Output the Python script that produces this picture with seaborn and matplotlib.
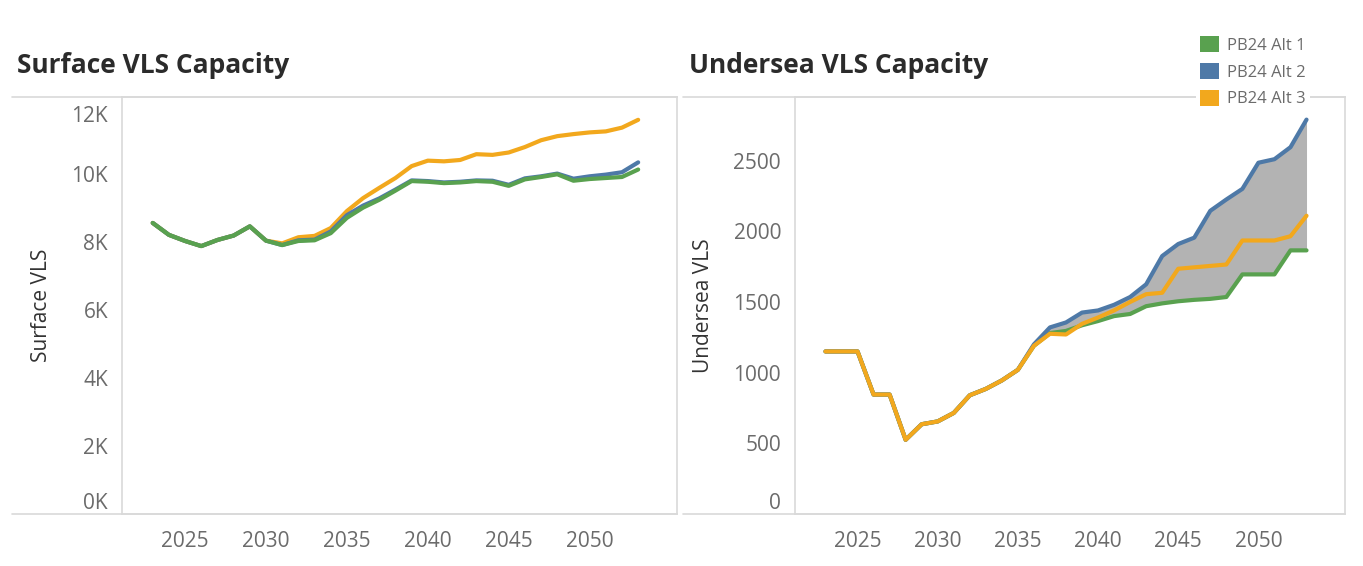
import numpy as np
import pandas as pd
import matplotlib
matplotlib.use("Agg")
import matplotlib.pyplot as plt
from matplotlib.lines import Line2D
from matplotlib.patches import Patch
import seaborn as sns

years = list(range(2023, 2054))
series_names = ["PB24 Alt 1", "PB24 Alt 2", "PB24 Alt 3"]
colors = {"PB24 Alt 1": "#59A14F", "PB24 Alt 2": "#4E79A7", "PB24 Alt 3": "#F2A81D"}

surface_alt1 = [8550, 8200, 8020, 7870, 8050, 8180, 8450, 8030, 7900, 8020, 8040,
                8250, 8700, 9000, 9230, 9500, 9780, 9760, 9720, 9740, 9780, 9760,
                9640, 9830, 9900, 9980, 9790, 9840, 9870, 9900, 10120]
surface_alt2 = [8550, 8200, 8020, 7870, 8050, 8180, 8450, 8030, 7900, 8040, 8060,
                8300, 8780, 9060, 9270, 9530, 9800, 9780, 9740, 9760, 9800, 9790,
                9670, 9860, 9920, 10000, 9850, 9920, 9970, 10040, 10330]
surface_alt3 = [8550, 8200, 8020, 7870, 8050, 8180, 8450, 8030, 7950, 8130, 8170,
                8400, 8900, 9280, 9580, 9870, 10220, 10380, 10360, 10400, 10570, 10550,
                10620, 10780, 10980, 11100, 11160, 11210, 11240, 11350, 11580]

undersea_alt1 = [1150, 1150, 1150, 845, 845, 525, 635, 655, 715, 840, 885, 945, 1020,
                 1190, 1280, 1295, 1335, 1365, 1400, 1415, 1470, 1490, 1505, 1515,
                 1522, 1535, 1695, 1695, 1695, 1865, 1865]
undersea_alt2 = [1150, 1150, 1150, 845, 845, 525, 635, 655, 715, 840, 885, 945, 1020,
                 1200, 1320, 1355, 1425, 1440, 1480, 1535, 1625, 1825, 1910, 1955,
                 2145, 2225, 2300, 2485, 2510, 2595, 2790]
undersea_alt3 = [1150, 1150, 1150, 845, 845, 525, 635, 655, 715, 840, 885, 945, 1020,
                 1190, 1275, 1270, 1345, 1390, 1440, 1500, 1555, 1565, 1735, 1745,
                 1755, 1765, 1935, 1935, 1935, 1965, 2110]

surface_ticks = [0, 2000, 4000, 6000, 8000, 10000, 12000]
surface_labels = ["0K", "2K", "4K", "6K", "8K", "10K", "12K"]
undersea_ticks = [0, 500, 1000, 1500, 2000, 2500]
year_ticks = [2025, 2030, 2035, 2040, 2045, 2050]


def to_long(cols):
    df = pd.DataFrame({"Year": years})
    for name, vals in zip(series_names, cols):
        df[name] = vals
    return df.melt(id_vars="Year", var_name="Series", value_name="VLS")


surface_df = to_long([surface_alt1, surface_alt2, surface_alt3])
undersea_df = to_long([undersea_alt1, undersea_alt2, undersea_alt3])

sns.set_theme(style="white")
plt.rcParams["font.family"] = ["Open Sans", "DejaVu Sans"]

W, H = 1363, 566
fig = plt.figure(figsize=(W / 100, H / 100), dpi=100)


def frac(x0, y0, x1, y1):
    return [x0 / W, 1 - y1 / H, (x1 - x0) / W, (y1 - y0) / H]


ax1 = fig.add_axes(frac(122, 97, 677, 514))
ax2 = fig.add_axes(frac(795, 97, 1345, 514))

grey_txt = "#6b6b6b"
line_col = "#d9d9d9"

# left: orange under blue under green
for name in ["PB24 Alt 3", "PB24 Alt 2", "PB24 Alt 1"]:
    sns.lineplot(data=surface_df[surface_df.Series == name], x="Year", y="VLS",
                 color=colors[name], lw=3, ax=ax1, legend=False)

# right: band first, then lines with orange on top
ax2.fill_between(years, undersea_alt1, undersea_alt2, color="#b3b3b3", lw=0)
for name in ["PB24 Alt 1", "PB24 Alt 2", "PB24 Alt 3"]:
    sns.lineplot(data=undersea_df[undersea_df.Series == name], x="Year", y="VLS",
                 color=colors[name], lw=3, ax=ax2, legend=False)

ax1.set_ylim(0, 12250)
ax1.set_yticks(surface_ticks)
ax1.set_yticklabels(surface_labels)
ax2.set_ylim(0, 2950)
ax2.set_yticks(undersea_ticks)
ax2.set_yticklabels([str(t) for t in undersea_ticks])

for ax, ylab in [(ax1, "Surface VLS"), (ax2, "Undersea VLS")]:
    ax.set_xlim(2021.1, 2055.4)
    ax.set_xticks(year_ticks)
    ax.set_xlabel("")
    ax.set_ylabel(ylab, fontsize=15, color="#333333", labelpad=14)
    ax.tick_params(axis="both", length=0, labelsize=15, labelcolor=grey_txt, pad=10)
    ax.tick_params(axis="x", pad=12)
    for s in ax.spines.values():
        s.set_color(line_col)
        s.set_linewidth(1.2)
    # keep edge labels inside the pane, as Tableau does
    ax.get_yticklabels()[0].set_verticalalignment("bottom")

ax1.get_yticklabels()[-1].set_verticalalignment("top")

# panel frame lines running under the axis labels (Tableau style)
for x0, x1 in [(12, 677), (683, 1345)]:
    for y in (97, 514):
        fig.add_artist(Line2D([x0 / W, x1 / W], [1 - y / H, 1 - y / H],
                              color=line_col, lw=1.2))

fig.text(17 / W, 1 - 66 / H, "Surface VLS Capacity", fontsize=19, fontweight="bold",
         color="#2b2b2b", va="center", ha="left")
fig.text(689 / W, 1 - 66 / H, "Undersea VLS Capacity", fontsize=19, fontweight="bold",
         color="#2b2b2b", va="center", ha="left")

handles = [Patch(facecolor=colors[n], edgecolor="none", label=n) for n in series_names]
leg = fig.legend(handles=handles, loc="upper left", bbox_to_anchor=(1196 / W, 1 - 32 / H),
                 frameon=True, fontsize=12, handlelength=1.1, handleheight=1.1,
                 handletextpad=0.5, labelspacing=0.55, borderpad=0.25, borderaxespad=0)
leg.get_frame().set_facecolor("white")
leg.get_frame().set_edgecolor("none")
leg.get_frame().set_alpha(1)
leg.set_zorder(10)
for t in leg.get_texts():
    t.set_color(grey_txt)

fig.savefig("out.png", dpi=100)
